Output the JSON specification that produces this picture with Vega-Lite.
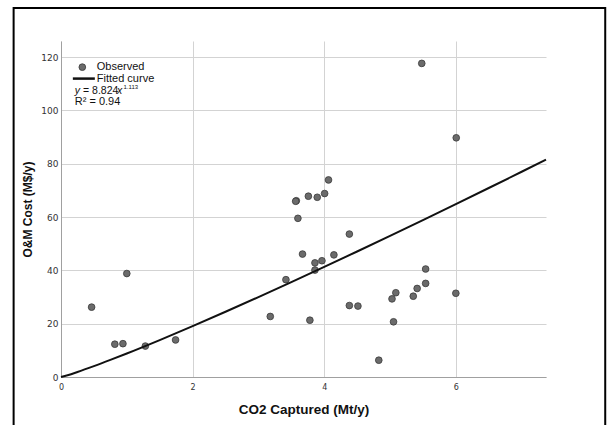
{
  "$schema": "https://vega.github.io/schema/vega-lite/v6.json",
  "width": 485,
  "height": 336,
  "autosize": {"type": "none"},
  "padding": {"left": 61, "top": 41, "right": 61, "bottom": 48},
  "background": "white",
  "config": {"view": {"stroke": null}, "font": "Liberation Sans"},
  "datasets": {
    "observed": [
      {"co2": 0.465, "cost": 26.2},
      {"co2": 0.818, "cost": 12.3},
      {"co2": 0.941, "cost": 12.5},
      {"co2": 1.0, "cost": 38.8},
      {"co2": 1.282, "cost": 11.6},
      {"co2": 1.741, "cost": 13.9},
      {"co2": 3.18, "cost": 22.7},
      {"co2": 3.418, "cost": 36.5},
      {"co2": 3.576, "cost": 66.1},
      {"co2": 3.566, "cost": 65.9},
      {"co2": 3.6, "cost": 59.5},
      {"co2": 3.67, "cost": 46.1},
      {"co2": 3.759, "cost": 67.8},
      {"co2": 3.782, "cost": 21.3},
      {"co2": 3.859, "cost": 42.8},
      {"co2": 3.859, "cost": 40.1},
      {"co2": 3.894, "cost": 67.4},
      {"co2": 3.965, "cost": 43.6},
      {"co2": 4.006, "cost": 68.8},
      {"co2": 4.065, "cost": 73.9},
      {"co2": 4.147, "cost": 45.8},
      {"co2": 4.382, "cost": 53.6},
      {"co2": 4.382, "cost": 26.8},
      {"co2": 4.512, "cost": 26.6},
      {"co2": 4.829, "cost": 6.3},
      {"co2": 5.03, "cost": 29.3},
      {"co2": 5.053, "cost": 20.7},
      {"co2": 5.088, "cost": 31.6},
      {"co2": 5.353, "cost": 30.3},
      {"co2": 5.412, "cost": 33.2},
      {"co2": 5.482, "cost": 117.6},
      {"co2": 5.541, "cost": 40.5},
      {"co2": 5.541, "cost": 35.1},
      {"co2": 6.006, "cost": 89.7},
      {"co2": 6.0, "cost": 31.4}
    ],
    "fitted": [
      {"co2": 0, "cost": 0},
      {"co2": 0.1, "cost": 0.68},
      {"co2": 0.25, "cost": 1.886},
      {"co2": 0.5, "cost": 4.079},
      {"co2": 0.75, "cost": 6.406},
      {"co2": 1, "cost": 8.824},
      {"co2": 1.5, "cost": 13.856},
      {"co2": 2, "cost": 19.087},
      {"co2": 2.5, "cost": 24.466},
      {"co2": 3, "cost": 29.971},
      {"co2": 3.5, "cost": 35.581},
      {"co2": 4, "cost": 41.284},
      {"co2": 4.5, "cost": 47.066},
      {"co2": 5, "cost": 52.918},
      {"co2": 5.5, "cost": 58.844},
      {"co2": 6, "cost": 64.832},
      {"co2": 6.5, "cost": 70.868},
      {"co2": 7, "cost": 76.963},
      {"co2": 7.37, "cost": 81.5}
    ]
  },
  "layer": [
    {
      "data": {"name": "observed"},
      "mark": {"type": "circle", "size": 45, "color": "#6b6b6b", "stroke": "#3a3a3a", "strokeWidth": 0.8, "opacity": 1},
      "encoding": {
        "x": {
          "field": "co2", "type": "quantitative",
          "scale": {"domain": [0, 7.37], "nice": false, "zero": false},
          "axis": {
            "title": "CO2 Captured (Mt/y)",
            "values": [0, 2, 4, 6],
            "format": "d",
            "grid": true, "gridColor": "#d3d3d3", "gridWidth": 1,
            "domainColor": "#a0a0a0", "domainWidth": 1,
            "ticks": false,
            "labelFont": "DejaVu Sans", "labelFontSize": 8, "labelColor": "#333333",
            "labelPadding": 6, "labelFlush": false,
            "titleFont": "Liberation Sans", "titleFontSize": 13.5, "titleFontWeight": "bold",
            "titleColor": "#111111", "titlePadding": 11
          }
        },
        "y": {
          "field": "cost", "type": "quantitative",
          "scale": {"domain": [0, 126], "nice": false, "zero": false},
          "axis": {
            "title": "O&M Cost (M$/y)",
            "values": [0, 20, 40, 60, 80, 100, 120],
            "format": "d",
            "grid": true, "gridColor": "#d3d3d3", "gridWidth": 1,
            "domainColor": "#a0a0a0", "domainWidth": 1,
            "ticks": false,
            "labelFont": "DejaVu Sans", "labelFontSize": 9, "labelColor": "#333333",
            "labelPadding": 3, "labelFlush": false,
            "titleFont": "Liberation Sans", "titleFontSize": 12, "titleFontWeight": "bold",
            "titleColor": "#111111", "titlePadding": 6
          }
        }
      }
    },
    {
      "data": {"name": "fitted"},
      "mark": {"type": "line", "color": "#111111", "strokeWidth": 2, "interpolate": "monotone"},
      "encoding": {
        "x": {"field": "co2", "type": "quantitative"},
        "y": {"field": "cost", "type": "quantitative"}
      }
    },
    {
      "data": {"values": [{}]},
      "mark": {"type": "rect", "fill": null, "stroke": "#000000", "strokeWidth": 2, "clip": false},
      "encoding": {
        "x": {"datum": -0.72, "type": "quantitative"},
        "x2": {"datum": 8.27},
        "y": {"datum": 138.4, "type": "quantitative"},
        "y2": {"datum": -25}
      }
    },
    {
      "data": {"values": [{}]},
      "mark": {"type": "circle", "size": 45, "color": "#6b6b6b", "stroke": "#3a3a3a", "strokeWidth": 0.8, "opacity": 1},
      "encoding": {
        "x": {"datum": 0.324, "type": "quantitative"},
        "y": {"datum": 116.2, "type": "quantitative"}
      }
    },
    {
      "data": {"values": [{}]},
      "mark": {"type": "rule", "color": "#111111", "strokeWidth": 2.5},
      "encoding": {
        "x": {"datum": 0.18, "type": "quantitative"},
        "x2": {"datum": 0.514},
        "y": {"datum": 111.9, "type": "quantitative"}
      }
    },
    {
      "data": {"values": [{}]},
      "mark": {"type": "text", "text": "Observed", "align": "left", "baseline": "middle", "font": "Liberation Sans", "fontSize": 11, "color": "#111111"},
      "encoding": {
        "x": {"datum": 0.544, "type": "quantitative"},
        "y": {"datum": 116.2, "type": "quantitative"}
      }
    },
    {
      "data": {"values": [{}]},
      "mark": {"type": "text", "text": "Fitted curve", "align": "left", "baseline": "middle", "font": "Liberation Sans", "fontSize": 11, "color": "#111111"},
      "encoding": {
        "x": {"datum": 0.544, "type": "quantitative"},
        "y": {"datum": 111.9, "type": "quantitative"}
      }
    },
    {
      "data": {"values": [{}]},
      "mark": {"type": "text", "text": "y", "align": "left", "baseline": "middle", "font": "Liberation Sans", "fontSize": 10.5, "fontStyle": "italic", "color": "#111111"},
      "encoding": {
        "x": {"datum": 0.2097, "type": "quantitative"},
        "y": {"datum": 107.4, "type": "quantitative"}
      }
    },
    {
      "data": {"values": [{}]},
      "mark": {"type": "text", "text": "= 8.824", "align": "left", "baseline": "middle", "font": "Liberation Sans", "fontSize": 10.5, "color": "#111111"},
      "encoding": {
        "x": {"datum": 0.335, "type": "quantitative"},
        "y": {"datum": 107.4, "type": "quantitative"}
      }
    },
    {
      "data": {"values": [{}]},
      "mark": {"type": "text", "text": "x", "align": "left", "baseline": "middle", "font": "Liberation Sans", "fontSize": 10.5, "fontStyle": "italic", "color": "#111111"},
      "encoding": {
        "x": {"datum": 0.852, "type": "quantitative"},
        "y": {"datum": 107.4, "type": "quantitative"}
      }
    },
    {
      "data": {"values": [{}]},
      "mark": {"type": "text", "text": "1.113", "align": "left", "baseline": "middle", "font": "Liberation Sans", "fontSize": 6, "color": "#111111"},
      "encoding": {
        "x": {"datum": 0.95, "type": "quantitative"},
        "y": {"datum": 108.8, "type": "quantitative"}
      }
    },
    {
      "data": {"values": [{}]},
      "mark": {"type": "text", "text": "R² = 0.94", "align": "left", "baseline": "middle", "font": "Liberation Sans", "fontSize": 11, "color": "#111111"},
      "encoding": {
        "x": {"datum": 0.2097, "type": "quantitative"},
        "y": {"datum": 103.3, "type": "quantitative"}
      }
    }
  ]
}
